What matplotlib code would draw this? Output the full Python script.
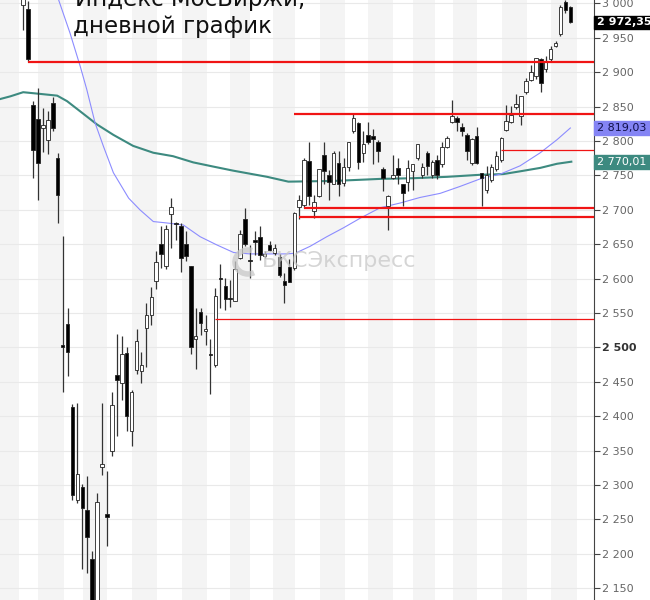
import matplotlib
matplotlib.use('Agg')
import matplotlib.pyplot as plt
import matplotlib.transforms as mtransforms
from matplotlib.patches import Rectangle, Arc

# daily candles of the MOEX index, left to right
opens = [2998, 2992, 2853, 2832, 2819, 2802, 2855, 2775, 2503, 2534,
         2414, 2279, 2297, 2264, 2192, 2125, 2327, 2258, 2349, 2460,
         2448, 2492, 2378, 2467, 2466, 2529, 2547, 2597, 2651, 2619,
         2694, 2681, 2677, 2651, 2619, 2512, 2551, 2524, 2490, 2474,
         2601, 2590, 2572, 2568, 2630, 2686, 2627, 2655, 2660, 2633,
         2649, 2638, 2631, 2597, 2617, 2615, 2704, 2707, 2771, 2698,
         2720, 2780, 2751, 2737, 2768, 2739, 2762, 2814, 2826, 2783,
         2809, 2808, 2798, 2759, 2706, 2747, 2761, 2737, 2741, 2756,
         2775, 2751, 2782, 2751, 2773, 2766, 2792, 2827, 2833, 2820,
         2809, 2768, 2808, 2754, 2729, 2744, 2759, 2773, 2816, 2827,
         2849, 2837, 2871, 2889, 2895, 2919, 2904, 2919, 2938, 2956,
         3002, 2995]
highs = [3012, 3003, 2858, 2877, 2848, 2843, 2864, 2783, 2662, 2557,
         2418, 2419, 2302, 2313, 2204, 2288, 2419, 2321, 2436, 2519,
         2516, 2501, 2438, 2527, 2493, 2564, 2588, 2640, 2676, 2678,
         2717, 2683, 2681, 2669, 2619, 2557, 2557, 2547, 2512, 2587,
         2622, 2601, 2598, 2625, 2671, 2703, 2649, 2669, 2676, 2640,
         2655, 2650, 2636, 2608, 2629, 2697, 2722, 2775, 2799, 2721,
         2760, 2799, 2758, 2785, 2785, 2775, 2799, 2840, 2828, 2814,
         2828, 2817, 2802, 2762, 2722, 2780, 2775, 2738, 2773, 2766,
         2796, 2768, 2785, 2773, 2780, 2798, 2808, 2860, 2836, 2826,
         2811, 2805, 2820, 2754, 2764, 2766, 2785, 2806, 2853, 2851,
         2869, 2866, 2892, 2910, 2921, 2921, 2923, 2938, 2946, 2998,
         3005, 2997]
lows = [2962, 2915, 2747, 2715, 2784, 2781, 2814, 2681, 2435, 2458,
        2279, 2274, 2178, 2172, 2100, 2110, 2315, 2212, 2342, 2372,
        2424, 2378, 2357, 2462, 2449, 2471, 2533, 2585, 2615, 2614,
        2645, 2656, 2610, 2625, 2490, 2469, 2518, 2504, 2432, 2471,
        2557, 2554, 2559, 2567, 2628, 2648, 2601, 2635, 2627, 2630,
        2640, 2634, 2603, 2565, 2595, 2612, 2686, 2703, 2707, 2688,
        2718, 2737, 2715, 2737, 2720, 2734, 2756, 2812, 2759, 2770,
        2795, 2767, 2770, 2728, 2671, 2745, 2737, 2705, 2727, 2729,
        2773, 2746, 2751, 2746, 2745, 2763, 2790, 2826, 2815, 2808,
        2772, 2765, 2766, 2705, 2725, 2741, 2757, 2769, 2814, 2826,
        2847, 2824, 2869, 2887, 2890, 2872, 2901, 2916, 2936, 2953,
        2986, 2971]
closes = [3006, 2919, 2787, 2768, 2824, 2830, 2819, 2722, 2500, 2493,
          2286, 2316, 2267, 2224, 2120, 2275, 2330, 2253, 2417, 2453,
          2491, 2401, 2435, 2510, 2475, 2547, 2573, 2624, 2636, 2672,
          2704, 2680, 2630, 2633, 2500, 2516, 2535, 2527, 2489, 2575,
          2600, 2571, 2571, 2614, 2665, 2651, 2626, 2654, 2635, 2636,
          2642, 2644, 2606, 2591, 2595, 2696, 2715, 2773, 2720, 2712,
          2759, 2756, 2741, 2783, 2737, 2762, 2798, 2833, 2769, 2796,
          2798, 2803, 2786, 2746, 2720, 2751, 2750, 2725, 2761, 2766,
          2795, 2763, 2764, 2770, 2750, 2792, 2805, 2837, 2827, 2815,
          2785, 2803, 2768, 2746, 2751, 2762, 2778, 2805, 2829, 2838,
          2854, 2865, 2887, 2900, 2921, 2884, 2916, 2934, 2943, 2995,
          2991, 2972.35]

# moving averages (position in candles, value)
ma_slow_pos = [-4.7, -2.6, 0, 2.8, 6.9, 8.9, 11.6, 15, 18.3, 22.3, 26.4,
               30.4, 34.5, 38.5, 42.6, 49.5, 53.8, 62.9, 72.4, 79.1, 86,
               92.7, 97.4, 100.8, 104.9, 108.3, 111.2]
ma_slow = [2861, 2865, 2871, 2869, 2866, 2858, 2843, 2824, 2809, 2793, 2783,
           2778, 2769, 2763, 2757, 2748, 2741, 2742, 2745, 2746, 2748,
           2751, 2752, 2756, 2761, 2767, 2770]
ma_fast_pos = [6.0, 7.2, 9.5, 11.6, 12.9, 14.6, 16.3, 18.3, 21.4, 23.7,
               26.4, 29.1, 32.5, 35.9, 39.3, 42.7, 46.0, 49.4, 53.5, 55.2,
               58.2, 61.6, 65.0, 68.4, 72.4, 76.5, 80.5, 84.6, 88.6, 92.7,
               96.8, 100.8, 104.9, 108.3, 111.0]
ma_fast = [3040, 3005, 2957, 2908, 2875, 2826, 2792, 2754, 2717, 2700,
           2683, 2681, 2678, 2661, 2649, 2638, 2636, 2636, 2636, 2637,
           2647, 2661, 2674, 2688, 2703, 2710, 2718, 2724, 2734, 2745,
           2752, 2764, 2783, 2802, 2819]

# horizontal levels: value, first candle, thick or thin
levels = [2915, 2840, 2787, 2702, 2689, 2541]
level_start = [1, 55, 97, 57, 56, 39]
level_thick = [True, True, False, True, True, False]

# weekly grey bands (in candles)
band_left = [-5, 3.0, 12.1, 22.0, 32.2, 42.0, 50.7, 60.2, 70.0, 79.1, 87.2,
             97.2, 107.1]
band_right = [-0.8, 8.2, 17.1, 27.2, 37.3, 46.0, 55.2, 65.3, 75.0, 83.6,
              92.1, 102.2, 112.4]

yticks = list(range(2150, 3001, 50))
price_last = 2972.35
ma_fast_last = 2819.03
ma_slow_last = 2770.01


def fmt(v, dec=0):
    s = f'{v:,.{dec}f}'.replace(',', ' ').replace('.', ',')
    return s


def main():
    fig = plt.figure(figsize=(6.5, 6.0), dpi=100)
    ax = fig.add_axes([0, 0, 594 / 650, 1])
    ax.set_xlim(-4.7, 115.8)
    ax.set_ylim(2133, 3005)

    for a, b in zip(band_left, band_right):
        ax.axvspan(a, b, color='#f4f4f4', lw=0, zorder=0)
    for t in yticks:
        ax.axhline(t, color='#e9e9e9', lw=0.8, zorder=1)

    ax.plot(ma_slow_pos, ma_slow, color='#3d8a80', lw=1.5, zorder=3)
    ax.plot(ma_fast_pos, ma_fast, color='#8c8cff', lw=0.8, zorder=3)

    for i in range(len(opens)):
        o, h, l, c = opens[i], highs[i], lows[i], closes[i]
        ax.vlines(i, l, h, color='#333333', lw=0.9, zorder=4)
        lo = min(o, c)
        ht = max(abs(c - o), 1.5)
        face = 'white' if c >= o else 'black'
        ax.bar(i, ht, bottom=lo, width=0.72, color=face,
               edgecolor='#222222', lw=0.6, zorder=5)

    for v, s, thick in zip(levels, level_start, level_thick):
        ax.hlines(v, s, 115.8, color='#f01414', lw=1.6 if thick else 0.9,
                  zorder=6)

    # watermark
    ax.text(262 / 594, 1 - 261 / 600, 'БКСЭкспресс', transform=ax.transAxes,
            fontsize=16, color='#c8c8c8', alpha=0.75, va='center',
            ha='left', zorder=7)
    ax.add_patch(Arc((248 / 594, 1 - 262 / 600), 26 / 594, 24 / 600,
                     theta1=70, theta2=300, transform=ax.transAxes,
                     color='#c8c8c8', lw=4, alpha=0.75, zorder=7))

    for side in ['top', 'left', 'bottom']:
        ax.spines[side].set_visible(False)
    ax.spines['right'].set_color('#444444')
    ax.set_xticks([])
    ax.yaxis.tick_right()
    ax.set_yticks(yticks, labels=[fmt(t) for t in yticks])
    ax.tick_params(axis='y', direction='out', length=4, width=0.8,
                   colors='#444444', labelcolor='#666666', labelsize=8,
                   pad=2)
    for lbl in ax.get_yticklabels():
        if lbl.get_text() == '2 500':
            lbl.set_fontweight('bold')
            lbl.set_color('#333333')

    # last value tags on the price axis
    trans = mtransforms.blended_transform_factory(ax.transAxes, ax.transData)
    tags = [(price_last, 'black', 'white', 'bold'),
            (ma_fast_last, '#8484f4', '#10104a', 'normal'),
            (ma_slow_last, '#3d8a80', 'white', 'normal')]
    for v, bg, fg, wt in tags:
        ax.add_patch(Rectangle((1.0, v - 10), 56 / 594, 20, transform=trans,
                               color=bg, clip_on=False, zorder=10))
        ax.text(1.0 + 3 / 594, v, fmt(v, 2), transform=trans, color=fg,
                fontsize=8, fontweight=wt, va='center', ha='left',
                clip_on=False, zorder=11)

    fig.text(75 / 650, 1 - 6 / 600, 'Индекс МосБиржи,', fontsize=16.5,
             color='#111111', va='baseline', ha='left')
    fig.text(73 / 650, 1 - 33 / 600, 'дневной график', fontsize=16.5,
             color='#111111', va='baseline', ha='left')

    fig.savefig('out.png', dpi=100)


if __name__ == '__main__':
    main()
